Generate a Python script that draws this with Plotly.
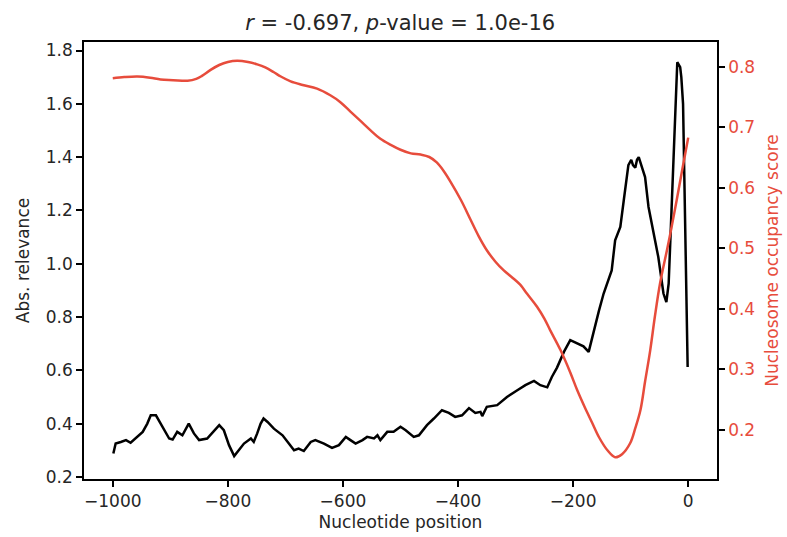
import plotly.graph_objects as go

# Nucleosome occupancy score (red, right axis)
occ_pos = [-1000, -980, -957, -935, -917, -895, -870, -855, -845, -830, -815, -800, -784, -765, -749,
           -735, -720, -708, -691, -670, -645, -622, -605, -587, -570, -552, -535, -517, -500, -482,
           -465, -450, -437, -425, -413, -395, -378, -364, -350, -335, -321, -306, -292, -280, -263,
           -250, -240, -222, -205, -193, -180, -167, -155, -140, -127, -115, -101, -92, -83, -75,
           -66, -58, -49, -37, -31, -20, -10, 0]
occ_val = [0.781, 0.783, 0.784, 0.782, 0.779, 0.778, 0.777, 0.780, 0.785, 0.795, 0.803, 0.808, 0.810, 0.808, 0.804,
           0.799, 0.791, 0.784, 0.776, 0.770, 0.764, 0.753, 0.742, 0.726, 0.711, 0.695, 0.681, 0.671, 0.663, 0.657,
           0.655, 0.651, 0.642, 0.628, 0.610, 0.580, 0.547, 0.520, 0.497, 0.478, 0.464, 0.452, 0.440, 0.425, 0.404,
           0.384, 0.365, 0.332, 0.295, 0.266, 0.238, 0.212, 0.188, 0.166, 0.155, 0.160, 0.178, 0.203, 0.233, 0.280,
           0.332, 0.387, 0.442, 0.497, 0.525, 0.580, 0.632, 0.683]

# Absolute relevance (black, left axis)
rel_pos = [-999, -995, -986, -977, -969, -957, -948, -940, -934, -925, -914, -902, -896, -888, -879,
           -868, -859, -850, -836, -824, -815, -807, -798, -789, -781, -772, -760, -755, -749, -743,
           -738, -731, -720, -705, -694, -685, -677, -668, -656, -648, -633, -619, -607, -595, -587,
           -578, -566, -558, -546, -540, -535, -523, -512, -500, -491, -477, -468, -454, -442, -428,
           -416, -405, -393, -381, -370, -361, -358, -350, -332, -315, -297, -283, -268, -257, -245,
           -237, -228, -216, -205, -193, -182, -173, -164, -155, -147, -139, -133, -127, -118, -112,
           -106, -104, -99, -96, -92, -89, -86, -83, -79, -75, -69, -60, -52, -43, -38,
           -34, -31, -25, -19, -14, -12, -9, -6, -3, -1]
rel_val = [0.288, 0.325, 0.331, 0.338, 0.328, 0.350, 0.369, 0.400, 0.431, 0.431, 0.388, 0.344, 0.340, 0.369, 0.356,
           0.400, 0.363, 0.338, 0.344, 0.375, 0.394, 0.375, 0.319, 0.278, 0.300, 0.325, 0.344, 0.331, 0.363, 0.400,
           0.419, 0.406, 0.381, 0.356, 0.325, 0.300, 0.306, 0.297, 0.331, 0.338, 0.325, 0.309, 0.319, 0.350, 0.338,
           0.325, 0.338, 0.350, 0.344, 0.356, 0.338, 0.369, 0.369, 0.388, 0.375, 0.350, 0.356, 0.394, 0.419, 0.450,
           0.440, 0.425, 0.431, 0.458, 0.440, 0.444, 0.428, 0.463, 0.469, 0.500, 0.525, 0.544, 0.560, 0.544, 0.536,
           0.575, 0.610, 0.669, 0.713, 0.700, 0.690, 0.669, 0.750, 0.825, 0.888, 0.938, 0.975, 1.088, 1.138, 1.238,
           1.338, 1.370, 1.390, 1.370, 1.360, 1.390, 1.400, 1.380, 1.360, 1.325, 1.213, 1.113, 1.025, 0.888, 0.856,
           0.925, 1.088, 1.463, 1.756, 1.738, 1.700, 1.600, 1.250, 0.900, 0.612]

x_ticks = [-1000, -800, -600, -400, -200, 0]
left_ticks = [0.2, 0.4, 0.6, 0.8, 1.0, 1.2, 1.4, 1.6, 1.8]
right_ticks = [0.2, 0.3, 0.4, 0.5, 0.6, 0.7, 0.8]

RED = "#e74c3c"
TXT = "#262626"
FONT = "DejaVu Sans"

fig = go.Figure()
fig.add_trace(go.Scatter(x=rel_pos, y=rel_val, mode="lines",
                         line=dict(color="black", width=2.5), yaxis="y", showlegend=False))
fig.add_trace(go.Scatter(x=occ_pos, y=occ_val, mode="lines",
                         line=dict(color=RED, width=2.5, shape="spline", smoothing=1.0),
                         yaxis="y2", showlegend=False))

axis_common = dict(showgrid=False, zeroline=False, showline=True, linecolor="black", linewidth=1.5,
                   ticks="outside", ticklen=6, tickwidth=1.5, tickcolor="black", automargin=False)

fig.update_layout(
    width=787, height=537,
    margin=dict(l=84, r=70, t=42, b=58),
    paper_bgcolor="white", plot_bgcolor="white",
    font=dict(family=FONT, size=18, color=TXT),
    title=dict(text="<i>r</i> = -0.697, <i>p</i>-value = 1.0e-16", x=0.5085, xanchor="center",
               y=1 - 23 / 537, yanchor="middle", yref="container",
               font=dict(family=FONT, size=21, color=TXT)),
    xaxis=dict(range=[-1050, 50], tickvals=x_ticks, mirror=True,
               title=dict(text="Nucleotide position", standoff=6, font=dict(size=17)),
               tickfont=dict(size=17), **axis_common),
    yaxis=dict(range=[0.192, 1.832], tickvals=left_ticks, tickformat=".1f", mirror=False,
               title=dict(text="Abs. relevance", standoff=12, font=dict(size=17)),
               tickfont=dict(size=17), **axis_common),
    yaxis2=dict(range=[0.119, 0.841], tickvals=right_ticks, tickformat=".1f", overlaying="y",
                side="right", anchor="x",
                title=dict(text="Nucleosome occupancy score", standoff=12, font=dict(size=17, color=RED)),
                tickfont=dict(size=17, color=RED), **axis_common),
)

fig.write_html("out.html")
